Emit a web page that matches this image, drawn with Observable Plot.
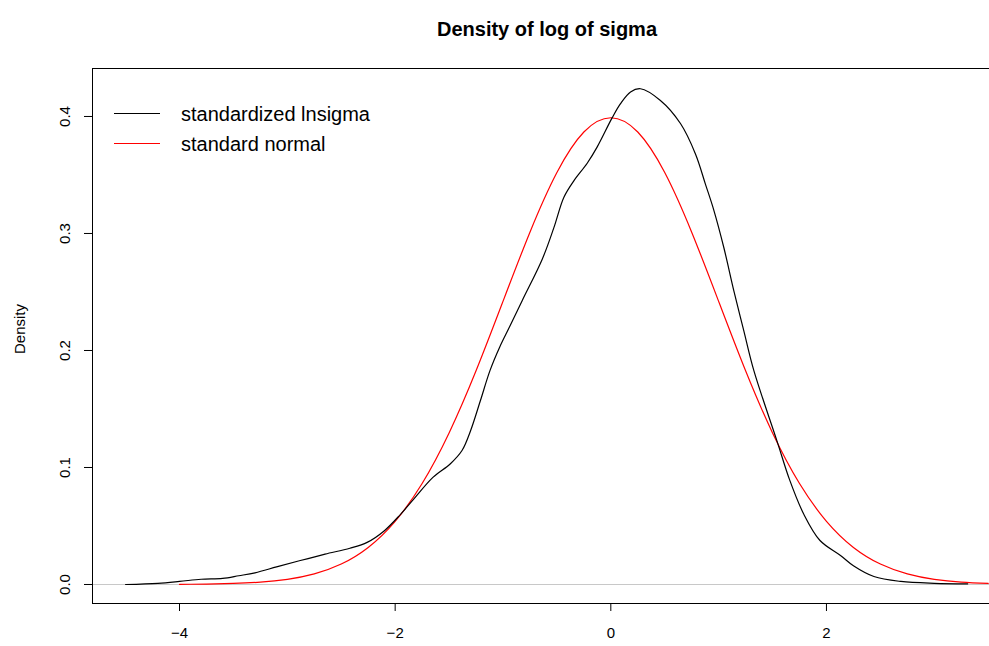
<!DOCTYPE html>
<html>
<head>
<meta charset="utf-8">
<script src="https://cdn.jsdelivr.net/npm/d3@7"></script>
<script src="https://cdn.jsdelivr.net/npm/@observablehq/plot@0.6"></script>
<style>
  html, body { margin: 0; padding: 0; background: #fff; }
  #wrap { position: relative; width: 989px; height: 646px; font-family: "Liberation Sans", Arial, sans-serif; }
  #legend { position: absolute; left: 114px; top: 100px; font-size: 20px; color: #000; }
  .row { position: relative; height: 30px; }
  .row .ln { position: absolute; left: 0; top: 13px; width: 46px; height: 0; border-top: 1.2px solid; }
  .row .tx { position: absolute; left: 67px; top: 3px; line-height: 22px; white-space: nowrap; }
</style>
</head>
<body>
<div id="wrap"><div id="legend"></div></div>
<script>
// ---- data ----
const titleText = "Density of log of sigma";
const yLabel = "Density";
const seriesNames = ["standardized lnsigma", "standard normal"];
const seriesColors = ["#000000", "#ff0000"];

// standardized lnsigma kernel density
const densX = [-4.5, -4.2, -4.0, -3.8, -3.6, -3.45, -3.3, -3.1, -2.88, -2.65, -2.42, -2.26, -2.1, -1.95, -1.83, -1.65, -1.49, -1.38, -1.30, -1.21, -1.12, -1.03, -0.94, -0.82, -0.636, -0.528, -0.435, -0.343, -0.219, -0.126, 0.013, 0.09, 0.183, 0.275, 0.46, 0.646, 0.785, 0.878, 0.955, 1.048, 1.141, 1.233, 1.326, 1.54, 1.66, 1.79, 1.94, 2.13, 2.25, 2.44, 2.69, 3.0, 3.31];
const densY = [0.0, 0.001, 0.0026, 0.0045, 0.0052, 0.0075, 0.010, 0.015, 0.0205, 0.026, 0.031, 0.036, 0.046, 0.060, 0.0727, 0.0915, 0.103, 0.1145, 0.1316, 0.157, 0.183, 0.203, 0.22, 0.243, 0.278, 0.305, 0.331, 0.345, 0.360, 0.374, 0.399, 0.411, 0.421, 0.4237, 0.4137, 0.394, 0.368, 0.342, 0.320, 0.288, 0.251, 0.217, 0.183, 0.123, 0.089, 0.060, 0.0376, 0.0248, 0.016, 0.0068, 0.0026, 0.001, 0.0006];

// standard normal curve
const normX = [-4, -3.75, -3.5, -3.25, -3, -2.75, -2.5, -2.25, -2, -1.75, -1.5, -1.25, -1, -0.75, -0.5, -0.25, 0, 0.25, 0.5, 0.75, 1, 1.25, 1.5, 1.75, 2, 2.25, 2.5, 2.75, 3, 3.25, 3.5];
const normY = [0.0001, 0.0004, 0.0009, 0.0020, 0.0044, 0.0091, 0.0175, 0.0317, 0.0540, 0.0863, 0.1295, 0.1826, 0.2420, 0.3011, 0.3521, 0.3867, 0.3989, 0.3867, 0.3521, 0.3011, 0.2420, 0.1826, 0.1295, 0.0863, 0.0540, 0.0317, 0.0175, 0.0091, 0.0044, 0.0020, 0.0009];

const xTicks = [-4, -2, 0, 2];
const yTicks = [0.0, 0.1, 0.2, 0.3, 0.4];

// ---- build ----
const dens = densX.map((x, i) => ({x, y: densY[i]}));
const norm = normX.map((x, i) => ({x, y: normY[i]}));
const fmt = d => (d < 0 ? "\u2212" : "") + Math.abs(d);

const chart = Plot.plot({
  width: 989,
  height: 646,
  marginTop: 68,
  marginBottom: 43,
  marginLeft: 92,
  marginRight: 0,
  style: {fontFamily: "Liberation Sans, Arial, sans-serif", fontSize: "15px", background: "#fff"},
  x: {domain: [-4.807, 3.512]},
  y: {domain: [-0.01624, 0.4410]},
  marks: [
    Plot.ruleY([0], {stroke: "#c8c8c8", strokeWidth: 1.2}),
    Plot.line(norm, {x: "x", y: "y", stroke: seriesColors[1], strokeWidth: 1.2, curve: "natural"}),
    Plot.line(dens, {x: "x", y: "y", stroke: seriesColors[0], strokeWidth: 1.2, curve: "catmull-rom"}),
    Plot.frame({anchor: "left", stroke: "#000"}),
    Plot.frame({anchor: "top", stroke: "#000"}),
    Plot.frame({anchor: "bottom", stroke: "#000"}),
    Plot.axisX(xTicks, {tickSize: 8, tickPadding: 16, tickFormat: fmt, fontSize: 15, label: null, stroke: "#000", fill: "#000"}),
    Plot.axisY(yTicks, {tickSize: 8, tickFormat: () => "", label: null, stroke: "#000"}),
    Plot.text(yTicks, {y: d => d, frameAnchor: "left", textAnchor: "middle", lineAnchor: "middle", dx: -27, rotate: -90, text: d => d.toFixed(1), fontSize: 15, fill: "#000"}),
    Plot.text([yLabel], {frameAnchor: "left", textAnchor: "middle", lineAnchor: "middle", dx: -72, dy: -7, rotate: -90, text: d => d, fontSize: 15, fill: "#000"}),
    Plot.text([titleText], {frameAnchor: "top", textAnchor: "middle", lineAnchor: "middle", dx: 6, dy: -39, text: d => d, fontSize: 20, fontWeight: "bold", fill: "#000"})
  ]
});
document.getElementById("wrap").prepend(chart);

const legend = document.getElementById("legend");
seriesNames.forEach((name, i) => {
  const row = document.createElement("div");
  row.className = "row";
  row.innerHTML = `<div class="ln" style="border-color:${seriesColors[i]}"></div><div class="tx">${name}</div>`;
  legend.appendChild(row);
});
</script>
</body>
</html>
